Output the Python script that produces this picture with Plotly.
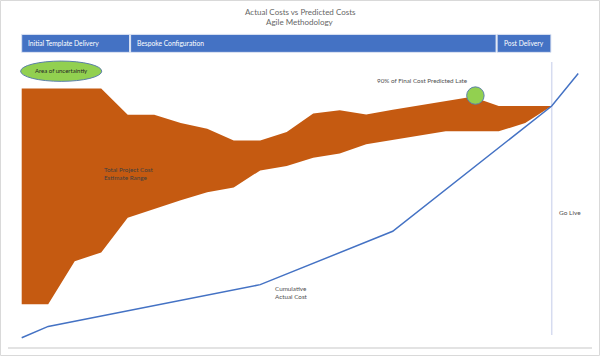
import plotly.graph_objects as go

# ---- data ----
period = list(range(21))
estimate_upper = [89.1, 89.1, 89.1, 89.1, 80.1, 80.1, 77.2, 75.3, 71.2, 71.2, 74.1,
                  80.5, 81.6, 80.2, 81.8, 83.3, 84.9, 86.3, 83.1, 83.1, 83.1]
estimate_lower = [14.7, 14.7, 29.6, 32.6, 44.6, 47.7, 50.6, 53.4, 55.0, 60.9, 62.4,
                  65.3, 66.7, 69.9, 71.4, 73.0, 74.4, 74.4, 74.4, 77.2, 83.1]
actual_period = [0, 1, 9, 14, 20, 21]
actual_cost = [3.2, 7.1, 21.5, 39.9, 83.1, 94.3]

phase_names = ["Initial Template Delivery", "Bespoke Configuration", "Post Delivery"]
phase_bounds = [0, 4.07, 17.9, 19.97]
go_live = 20

FONT = "Lato"
BAND = "#C55A11"
BLUE = "#4472C4"
GREEN = "#92D050"

fig = go.Figure()
fig.add_trace(go.Scatter(x=period, y=estimate_lower, mode="lines",
                         line=dict(width=0, color=BAND), showlegend=False, hoverinfo="skip"))
fig.add_trace(go.Scatter(x=period, y=estimate_upper, mode="lines", fill="tonexty",
                         fillcolor=BAND, line=dict(width=0, color=BAND),
                         showlegend=False, hoverinfo="skip"))
fig.add_trace(go.Scatter(x=actual_period, y=actual_cost, mode="lines",
                         line=dict(width=1.5, color=BLUE), showlegend=False))

shapes = []
annotations = []

# phase boxes
for i, name in enumerate(phase_names):
    x0 = phase_bounds[i] + (0.0 if i == 0 else 0.04)
    x1 = phase_bounds[i + 1]
    shapes.append(dict(type="rect", xref="x", yref="paper", x0=x0, x1=x1,
                       y0=1.016, y1=1.078, fillcolor=BLUE,
                       line=dict(color="#DCE3F2", width=1), layer="above"))
    annotations.append(dict(x=x0 + 0.17, y=1.047, xref="x", yref="paper", text=name,
                            showarrow=False, xanchor="left", yanchor="middle",
                            font=dict(family=FONT, size=6.7, color="white")))

# go live line
shapes.append(dict(type="line", xref="x", yref="y", x0=go_live, x1=go_live, y0=4.1, y1=98.3,
                   line=dict(color="#D6DCF0", width=1.5), layer="below"))

# area of uncertainty ellipse
shapes.append(dict(type="circle", xref="x", yref="y", x0=-0.04, x1=3.02, y0=91.6, y1=98.6,
                   fillcolor=GREEN, line=dict(color="#5B7FA8", width=1), layer="above"))
# green marker circle
shapes.append(dict(type="circle", xref="x", yref="y", x0=16.79, x1=17.45, y0=83.7, y1=89.7,
                   fillcolor=GREEN, line=dict(color="#5B7FA8", width=1), layer="above"))

# outer border
shapes.append(dict(type="rect", xref="paper", yref="paper", x0=-0.01284, x1=1.01284,
                   y0=-0.0293, y1=1.1948, line=dict(color="#D9D9D9", width=1),
                   fillcolor="rgba(0,0,0,0)"))

annotations += [
    dict(x=0.5, y=1.155, xref="paper", yref="paper", text="Actual Costs vs Predicted Costs",
         showarrow=False, yanchor="middle", font=dict(family=FONT, size=8, color="#666666")),
    dict(x=0.5, y=1.120, xref="paper", yref="paper", text="Agile Methodology",
         showarrow=False, yanchor="middle", font=dict(family=FONT, size=8, color="#666666")),
    dict(x=1.49, y=95.2, xref="x", yref="y", text="Area of uncertaintiy", showarrow=False,
         font=dict(family=FONT, size=6, color="#262626")),
    dict(x=15.12, y=91.8, xref="x", yref="y", text="90% of Final Cost Predicted Late",
         showarrow=False, font=dict(family=FONT, size=6.3, color="#505050")),
    dict(x=3.02, y=59.8, xref="x", yref="y", text="Total Project Cost<br>Estimate Range",
         showarrow=False, xanchor="left", align="left",
         font=dict(family=FONT, size=6.3, color="#404040")),
    dict(x=9.47, y=18.9, xref="x", yref="y", text="Cumulative<br>Actual Cost",
         showarrow=False, xanchor="left", align="left",
         font=dict(family=FONT, size=6.3, color="#505050")),
    dict(x=20.69, y=46.4, xref="x", yref="y", text="Go Live", showarrow=False,
         font=dict(family=FONT, size=6.5, color="#505050")),
]

fig.update_layout(
    width=600, height=356,
    margin=dict(l=8, r=8, t=57, b=9, pad=0),
    paper_bgcolor="white", plot_bgcolor="white",
    shapes=shapes, annotations=annotations,
    xaxis=dict(range=[-0.517, 21.52], showgrid=False, zeroline=False, showticklabels=False,
               ticks="", showline=True, linecolor="#E3E3E3", linewidth=1.5, fixedrange=True),
    yaxis=dict(range=[0, 100], showgrid=False, zeroline=False, showticklabels=False,
               ticks="", showline=False, fixedrange=True),
    showlegend=False,
    font=dict(family=FONT),
)

fig.write_html("out.html", config={"displayModeBar": False},
               post_script="document.body.style.margin='0';document.body.style.overflow='hidden';")
